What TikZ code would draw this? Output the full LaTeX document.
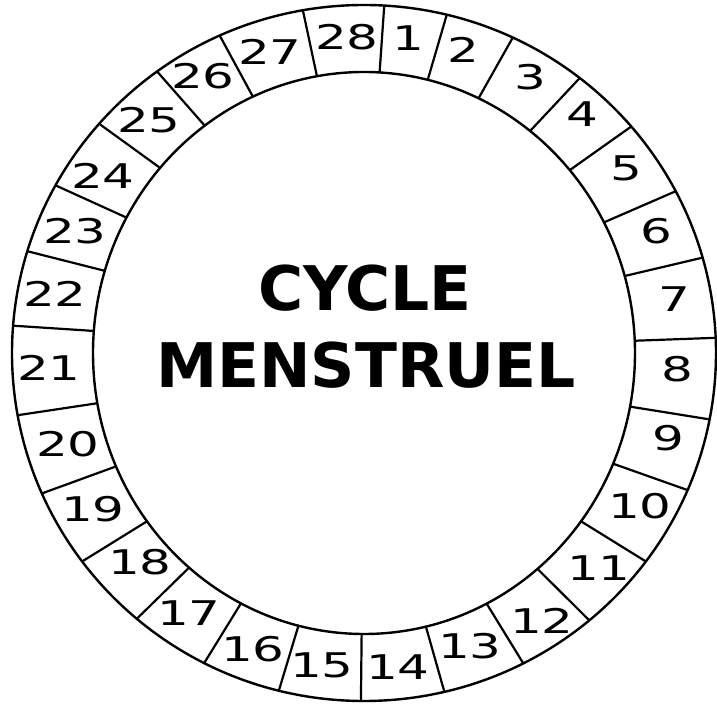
\documentclass[tikz,border=0pt]{standalone}
\usepackage{fontspec}
\setmainfont{DejaVu Sans}
\tikzset{
  ring/.style    = {line width=2.4pt},
  divider/.style = {line width=2.2pt},
  day/.style     = {font=\fontsize{34}{34}\selectfont, xscale=1.47, inner sep=0pt},
  title/.style   = {font=\fontsize{61.5}{62}\selectfont\bfseries, inner sep=0pt},
}

\begin{document}
\begin{tikzpicture}[x=1pt, y=1pt]
  \useasboundingbox (0,0) rectangle (717,704);
  \coordinate (c) at (364,351);

  % ring of days
  \begin{scope}[shift={(c)}]
    \draw[ring] (0,0) ellipse [x radius=352pt, y radius=348pt];
    \draw[ring] (0,0) ellipse [x radius=271pt, y radius=281pt];
    \foreach \a in {86.7, 76.4, 65, 52.2, 40.6, 27.7, 15.9, 2.5, -11, -23.2,
                    -36.8, -50.2, -63.1, -76.8, -90.5, -104, -117, -130.2,
                    -143.2, -156.2, -169.7, 175.5, 163, 151.2, 138.8, 126,
                    114.2, 100}
      \draw[divider] (\a:271pt and 281pt) -- (\a:352pt and 348pt);
  \end{scope}

  \foreach \n/\x/\y in {1/408/666, 2/463/654, 3/530/627, 4/582/590,
                        5/626/536, 6/656/473, 7/674/405, 8/677/335,
                        9/668/266, 10/640/198, 11/599/136, 12/542/83,
                        13/470/58, 14/398/37, 15/322/39, 16/253/55,
                        17/189/91, 18/140/142, 19/93/195, 20/68/260,
                        21/49/336, 22/55/410, 23/75/473, 24/103/528,
                        25/149/584, 26/203/628, 27/270/652, 28/347/667}
    \node[day] (day\n) at (\x,\y) {\n};

  \node[title] (cycle)     at (365,415.5) {CYCLE};
  \node[title] (menstruel) at (366,339)   {MENSTRUEL};
\end{tikzpicture}
\end{document}
